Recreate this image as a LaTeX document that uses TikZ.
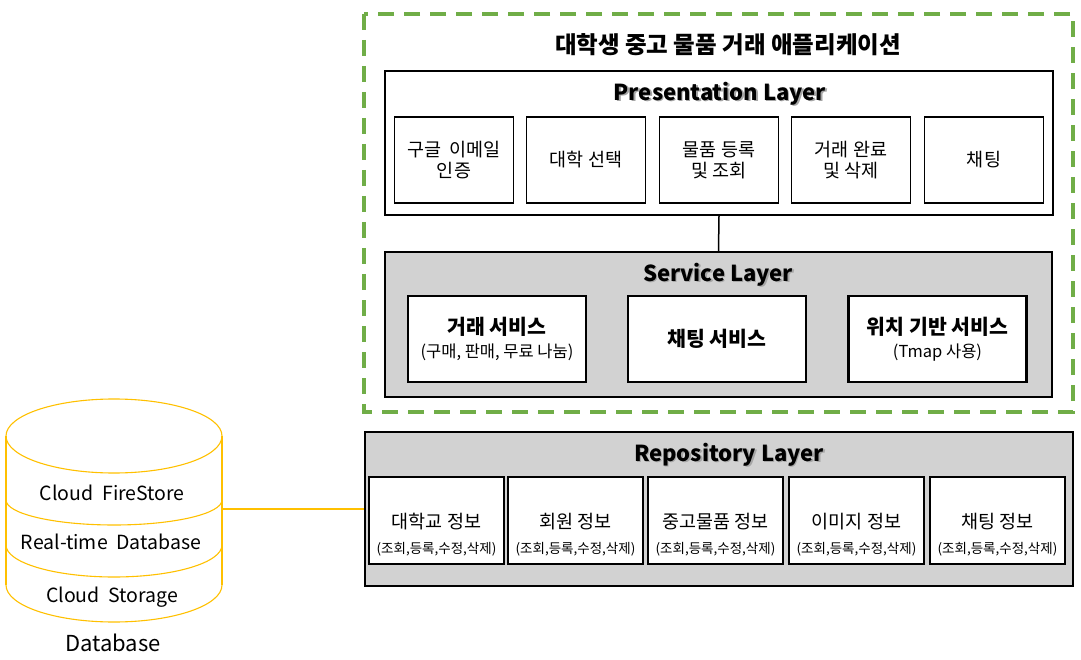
\documentclass[tikz,border=0pt]{standalone}
\usepackage{fontspec}
\setmainfont{Noto Sans CJK KR}
\definecolor{grn}{HTML}{70AD47}
\definecolor{gold}{HTML}{FFC000}
\definecolor{layergray}{HTML}{D2D2D2}
\newcommand\shtext[1]{\leavevmode\rlap{\color{black!35}\kern1.4pt\raisebox{-1.4pt}{#1}}#1}
\begin{document}
\begin{tikzpicture}[x=1pt,y=-1pt,
  layer/.style={draw, line width=1.6pt, inner sep=0pt},
  pbox/.style={draw, line width=1.6pt, fill=white, inner sep=0pt, align=center, minimum width=119pt, minimum height=86pt, font=\fontsize{18.5}{21}\selectfont},
  sbox/.style={draw, line width=2.4pt, fill=white, inner sep=0pt, align=center, minimum width=178pt, minimum height=86pt, font=\fontsize{20.5}{23}\selectfont},
  rbox/.style={draw, line width=1.6pt, fill=white, inner sep=0pt, minimum width=135pt, minimum height=87pt},
  rtext/.style={align=center, inner sep=0pt, font=\fontsize{18.5}{25}\selectfont},
  ltitle/.style={font=\fontsize{22}{26}\selectfont\bfseries, inner sep=0pt},
  dbtext/.style={font=\fontsize{19.5}{22}\selectfont, inner sep=0pt, text=black}
]
\useasboundingbox (0,0) rectangle (1081,660);
% green dashed frame
\draw[grn, line width=3.5pt, dash pattern=on 16pt off 10pt] (364,14) rectangle (1073,412);
\node[font=\fontsize{23.5}{26}\selectfont\bfseries, inner sep=0pt] (apptitle) at (728,45) {대학생 중고 물품 거래 애플리케이션};

% Presentation layer
\node[layer, fill=white, minimum width=668pt, minimum height=144pt] (pres) at (719,143) {};
\node[ltitle] (prestitle) at (720,94) {\shtext{Presentation Layer}};
\node[pbox] (p1) at (454,160) {구글\hspace{0.45em}이메일\\인증};
\node[pbox] (p2) at (586,160) {대학 선택};
\node[pbox] (p3) at (719,160) {물품 등록\\및 조회};
\node[pbox] (p4) at (851,160) {거래 완료\\및 삭제};
\node[pbox] (p5) at (984,160) {채팅};

% Service layer
\node[layer, fill=layergray, minimum width=667pt, minimum height=145pt] (svc) at (718.5,324.5) {};
\node[ltitle] (svctitle) at (718,275) {\shtext{Service Layer}};
\node[sbox] (s1) at (497,339) {\bfseries 거래 서비스\\{\fontsize{16.5}{18}\selectfont (구매, 판매, 무료 나눔)}};
\node[sbox] (s2) at (717,339) {\bfseries 채팅 서비스};
\node[sbox] (s3) at (937.5,339) {\bfseries 위치 기반 서비스\\{\fontsize{16.5}{18}\selectfont (Tmap 사용)}};
\draw[line width=1.5pt] (pres.south) -- (svc.north);

% Repository layer
\node[layer, fill=layergray, minimum width=708pt, minimum height=154pt] (repo) at (719,509) {};
\node[ltitle] (repotitle) at (729,455) {\shtext{Repository Layer}};
\foreach \i/\x/\t in {1/436.5/대학교 정보, 2/575.5/회원 정보, 3/715.5/중고물품 정보, 4/856.5/이미지 정보, 5/997.5/채팅 정보}{
  \node[rbox] (r\i) at (\x,520.5) {};
  \node[rtext] (rt\i) at (\x,535) {\t\\{\fontsize{13.5}{15}\selectfont (조회,등록,수정,삭제)}};
}

% Database cylinder
\begin{scope}[gold, line width=1.1pt]
  \draw (114,436) ellipse [x radius=108, y radius=37];
  \draw (6,436) -- (6,585);
  \draw (222,436) -- (222,585);
  \draw (6,500) arc [start angle=180, end angle=0, x radius=108, y radius=25];
  \draw (6,545) arc [start angle=180, end angle=0, x radius=108, y radius=32];
  \draw (6,585) arc [start angle=180, end angle=0, x radius=108, y radius=37];
\end{scope}
\node[dbtext] (cf) at (112,493) {Cloud \ FireStore};
\node[dbtext] (rt) at (111,542) {Real-time \ Database};
\node[dbtext] (cs) at (112,597) {Cloud \ Storage};
\node[font=\fontsize{22}{26}\selectfont, inner sep=0pt] (dblabel) at (113,643) {Database};
\coordinate (dbr) at (222,509);
\draw[gold, line width=1.8pt] (dbr) -- (repo.west);
\end{tikzpicture}
\end{document}
